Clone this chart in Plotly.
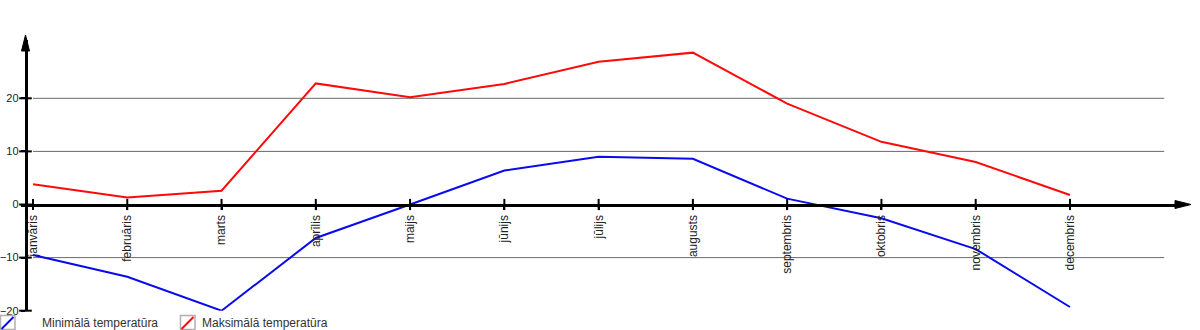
import plotly.graph_objects as go

# Monthly temperatures (°C)
months = ["janvāris", "februāris", "marts", "aprīlis", "maijs", "jūnijs",
          "jūlijs", "augusts", "septembris", "oktobris", "novembris", "decembris"]
t_min = [-9.5, -13.6, -20.0, -6.3, 0.0, 6.4, 9.0, 8.6, 1.1, -2.6, -8.4, -19.3]
t_max = [3.8, 1.3, 2.6, 22.8, 20.2, 22.7, 26.9, 28.6, 19.0, 11.8, 8.0, 1.8]
y_ticks = [-20, -10, 0, 10, 20]
grid_values = [-10, 10, 20]
series_names = ["Minimālā temperatūra", "Maksimālā temperatūra"]

W, H = 1200, 330
FONT = "Liberation Sans, Arial, sans-serif"
RED = "#ff0a0a"
BLUE = "#0a0aee"

# layout geometry in pixels
x_first = 33.0          # pixel of first category
x_step = 94.27          # pixels per category
y_bottom_px = 310.7     # pixel of y = -20
y_unit = 5.31           # pixels per degree
yaxis_px = 25.5         # horizontal pixel of the vertical axis
x_dom_px = (21.0, 1182.0)
y_top_px = 40.0


def px(p):
    return p / W


def py(p):
    return 1 - p / H


x_range = [(x_dom_px[0] - x_first) / x_step, (x_dom_px[1] - x_first) / x_step]
y_range = [-20, -20 + (y_bottom_px - y_top_px) / y_unit]
zero_px = y_bottom_px - 20 * y_unit
yaxis_data_x = (yaxis_px - x_first) / x_step

idx = list(range(len(months)))

fig = go.Figure()

fig.add_trace(go.Scatter(x=idx, y=t_max, mode="lines", name=series_names[1],
                         line=dict(color=RED, width=2), showlegend=False))
fig.add_trace(go.Scatter(x=idx, y=t_min, mode="lines", name=series_names[0],
                         line=dict(color=BLUE, width=2), showlegend=False))

# tick marks crossing the axes
fig.add_trace(go.Scatter(x=idx, y=[0] * len(idx), mode="markers", hoverinfo="skip",
                         marker=dict(symbol="line-ns", size=8,
                                     line=dict(color="black", width=2)),
                         cliponaxis=False, showlegend=False))
fig.add_trace(go.Scatter(x=[yaxis_data_x] * len(y_ticks), y=y_ticks, mode="markers",
                         hoverinfo="skip",
                         marker=dict(symbol="line-ew", size=9,
                                     line=dict(color="black", width=2)),
                         cliponaxis=False, showlegend=False))

shapes = []
for v in grid_values:
    shapes.append(dict(type="line", xref="x", yref="y", x0=0, x1=len(months),
                       y0=v, y1=v, line=dict(color="#6a6a6a", width=1), layer="below"))

# arrow heads
shapes.append(dict(type="path", xref="paper", yref="paper",
                   path=f"M {px(yaxis_px)} {py(35)} L {px(yaxis_px - 4)} {py(51)} "
                        f"L {px(yaxis_px + 4)} {py(51)} Z",
                   fillcolor="black", line=dict(color="black", width=1)))
shapes.append(dict(type="path", xref="paper", yref="paper",
                   path=f"M {px(1191)} {py(zero_px)} L {px(1175)} {py(zero_px - 4)} "
                        f"L {px(1175)} {py(zero_px + 4)} Z",
                   fillcolor="black", line=dict(color="black", width=1)))

# legend icons
legend_items = [(0, 40, BLUE, series_names[0]), (180, 200, RED, series_names[1])]
annotations = []
for bx, tx, col, name in legend_items:
    shapes.append(dict(type="rect", xref="paper", yref="paper",
                       x0=px(bx + 0.5), x1=px(bx + 15), y0=py(329.5), y1=py(315.5),
                       line=dict(color="#b0b0b0", width=1.5), fillcolor="white"))
    shapes.append(dict(type="line", xref="paper", yref="paper",
                       x0=px(bx + 1.5), y0=py(329), x1=px(bx + 13.5), y1=py(317),
                       line=dict(color=col, width=2)))
    annotations.append(dict(text=name, xref="paper", yref="paper", x=px(tx), y=py(323),
                            xanchor="left", yanchor="middle", showarrow=False,
                            font=dict(family=FONT, size=12, color="#333333")))

fig.update_layout(
    width=W, height=H,
    autosize=False,
    margin=dict(l=0, r=0, t=0, b=0, pad=0, autoexpand=False),
    paper_bgcolor="white", plot_bgcolor="white",
    showlegend=False,
    shapes=shapes,
    annotations=annotations,
    xaxis=dict(
        domain=[px(x_dom_px[0]), px(x_dom_px[1])],
        range=x_range,
        anchor="free", position=py(zero_px),
        tickmode="array", tickvals=idx, ticktext=months, tickangle=-90,
        ticks="outside", ticklen=4, tickwidth=2, tickcolor="black",
        showline=True, linecolor="black", linewidth=2.5,
        showgrid=False, zeroline=False, automargin=False,
        tickfont=dict(family=FONT, size=12, color="#222222"),
        fixedrange=True,
    ),
    yaxis=dict(
        domain=[py(y_bottom_px), py(y_top_px)],
        range=y_range,
        anchor="free", position=px(yaxis_px),
        tickmode="array", tickvals=y_ticks,
        ticks="outside", ticklen=4, tickwidth=2, tickcolor="black",
        showline=True, linecolor="black", linewidth=2.5,
        showgrid=False, zeroline=False, automargin=False,
        tickfont=dict(family=FONT, size=11, color="#222222"),
        fixedrange=True,
    ),
)

fig.write_html("out.html", config={"displayModeBar": False})
